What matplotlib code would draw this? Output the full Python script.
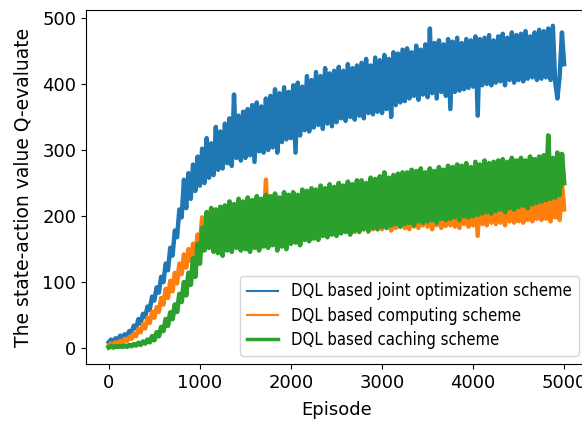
import numpy as np
import matplotlib
matplotlib.use("Agg")
import matplotlib.pyplot as plt
from matplotlib.font_manager import FontProperties

# Episodes sampled every 25 steps (last point = 4999)
episodes = np.append(np.arange(0, 5000, 25), 4999)

joint = [
    9, 13, 10, 15, 12, 19, 14, 21, 17, 26,
    24, 34, 30, 44, 37, 52, 47, 63, 58, 78,
    72, 92, 84, 108, 100, 128, 118, 152, 140, 178,
    168, 210, 198, 255, 212, 265, 226, 278, 238, 290,
    246, 302, 250, 318, 258, 310, 262, 335, 270, 328,
    272, 340, 280, 348, 276, 384, 288, 352, 284, 358,
    288, 362, 292, 368, 282, 372, 298, 366, 296, 378,
    300, 382, 304, 392, 296, 386, 312, 395, 316, 388,
    318, 398, 296, 402, 322, 396, 330, 412, 328, 406,
    334, 418, 338, 412, 332, 424, 340, 416, 336, 420,
    342, 426, 348, 420, 344, 430, 350, 424, 346, 428,
    352, 432, 348, 438, 356, 428, 354, 440, 358, 436,
    356, 444, 362, 438, 350, 448, 368, 446, 372, 452,
    374, 454, 378, 448, 382, 458, 376, 452, 384, 460,
    380, 484, 386, 462, 378, 466, 388, 460, 382, 468,
    362, 464, 388, 470, 390, 462, 392, 468, 394, 466,
    396, 472, 352, 468, 398, 470, 400, 474, 398, 466,
    402, 472, 404, 476, 398, 470, 406, 478, 402, 474,
    406, 476, 404, 480, 408, 472, 410, 478, 406, 482,
    408, 480, 410, 484, 406, 488, 404, 378, 412, 478,
    430,
]

computing = [
    4, 7, 5, 9, 7, 11, 9, 14, 11, 17,
    14, 22, 18, 29, 24, 36, 30, 46, 38, 55,
    46, 62, 55, 76, 66, 90, 76, 102, 86, 114,
    98, 128, 112, 142, 122, 150, 132, 158, 142, 172,
    156, 198, 162, 204, 166, 200, 160, 208, 168, 206,
    158, 212, 164, 208, 160, 214, 166, 210, 162, 216,
    164, 218, 168, 214, 162, 220, 170, 216, 168, 255,
    170, 222, 166, 226, 172, 220, 168, 224, 174, 228,
    172, 224, 168, 228, 174, 222, 176, 226, 170, 230,
    174, 228, 176, 224, 172, 230, 178, 226, 176, 232,
    176, 230, 174, 234, 180, 228, 178, 232, 176, 230,
    178, 232, 182, 236, 176, 230, 180, 234, 182, 238,
    180, 234, 184, 236, 178, 232, 182, 238, 184, 234,
    182, 236, 180, 238, 184, 234, 182, 240, 186, 236,
    184, 238, 180, 234, 186, 240, 182, 236, 185, 238,
    186, 236, 184, 240, 182, 238, 188, 236, 184, 240,
    186, 238, 170, 240, 188, 236, 186, 242, 190, 238,
    188, 240, 190, 244, 186, 238, 192, 242, 190, 246,
    192, 242, 190, 246, 194, 240, 192, 248, 196, 244,
    194, 248, 196, 244, 192, 250, 198, 246, 194, 252,
    210,
]

caching = [
    1, 3, 1, 3, 2, 3, 2, 4, 2, 5,
    3, 6, 4, 8, 5, 10, 7, 13, 9, 18,
    12, 24, 18, 32, 26, 44, 34, 54, 44, 66,
    55, 82, 70, 100, 80, 114, 96, 136, 108, 158,
    128, 182, 148, 206, 152, 212, 146, 210, 144, 214,
    140, 216, 148, 222, 146, 218, 152, 226, 148, 222,
    150, 228, 146, 224, 152, 230, 148, 226, 154, 232,
    152, 230, 156, 234, 148, 228, 154, 236, 150, 232,
    158, 236, 160, 232, 156, 240, 164, 238, 162, 242,
    166, 240, 164, 246, 170, 242, 168, 248, 172, 244,
    170, 250, 174, 246, 176, 252, 172, 248, 178, 254,
    176, 254, 180, 250, 178, 258, 182, 256, 180, 260,
    184, 266, 182, 258, 186, 262, 188, 264, 184, 266,
    188, 266, 190, 270, 186, 268, 192, 272, 190, 266,
    192, 272, 194, 268, 190, 274, 196, 270, 194, 276,
    196, 274, 198, 278, 194, 276, 200, 280, 198, 274,
    200, 282, 202, 278, 204, 284, 206, 280, 204, 282,
    208, 284, 210, 286, 206, 282, 212, 288, 210, 284,
    214, 288, 216, 284, 212, 290, 218, 286, 220, 290,
    222, 292, 224, 322, 226, 288, 228, 296, 232, 294,
    250,
]

labels = [
    "DQL based joint optimization scheme",
    "DQL based computing scheme",
    "DQL based caching scheme",
]
xticks = [0, 1000, 2000, 3000, 4000, 5000]
yticks = [0, 100, 200, 300, 400, 500]

plt.rcParams["font.family"] = ["DejaVu Sans"]

fig = plt.figure(figsize=(5.82, 4.21), dpi=100)
ax = fig.add_axes([86 / 582, 1 - 364 / 421, 501 / 582, 354 / 421])

ax.plot(episodes, joint, color="#1f77b4", lw=3.2, label=labels[0])
ax.plot(episodes, computing, color="#ff7f0e", lw=3.2, label=labels[1])
ax.plot(episodes, caching, color="#2ca02c", lw=3.4, label=labels[2])

ax.set_xlim(-250, 5250)
ax.set_ylim(-24, 512)
ax.set_xticks(xticks)
ax.set_yticks(yticks)
ax.tick_params(labelsize=13)
ax.set_xlabel("Episode", fontsize=13, labelpad=7)
ax.set_ylabel("The state-action value Q-evaluate", fontsize=13.5, labelpad=7)

legprop = FontProperties(family="DejaVu Sans", stretch="condensed", size=12)
leg = ax.legend(loc="lower right", prop=legprop, handlelength=1.85,
                labelspacing=0.38)
for line, w in zip(leg.get_lines(), [1.5, 1.5, 2.5]):
    line.set_linewidth(w)

fig.savefig("out.png", dpi=100)
